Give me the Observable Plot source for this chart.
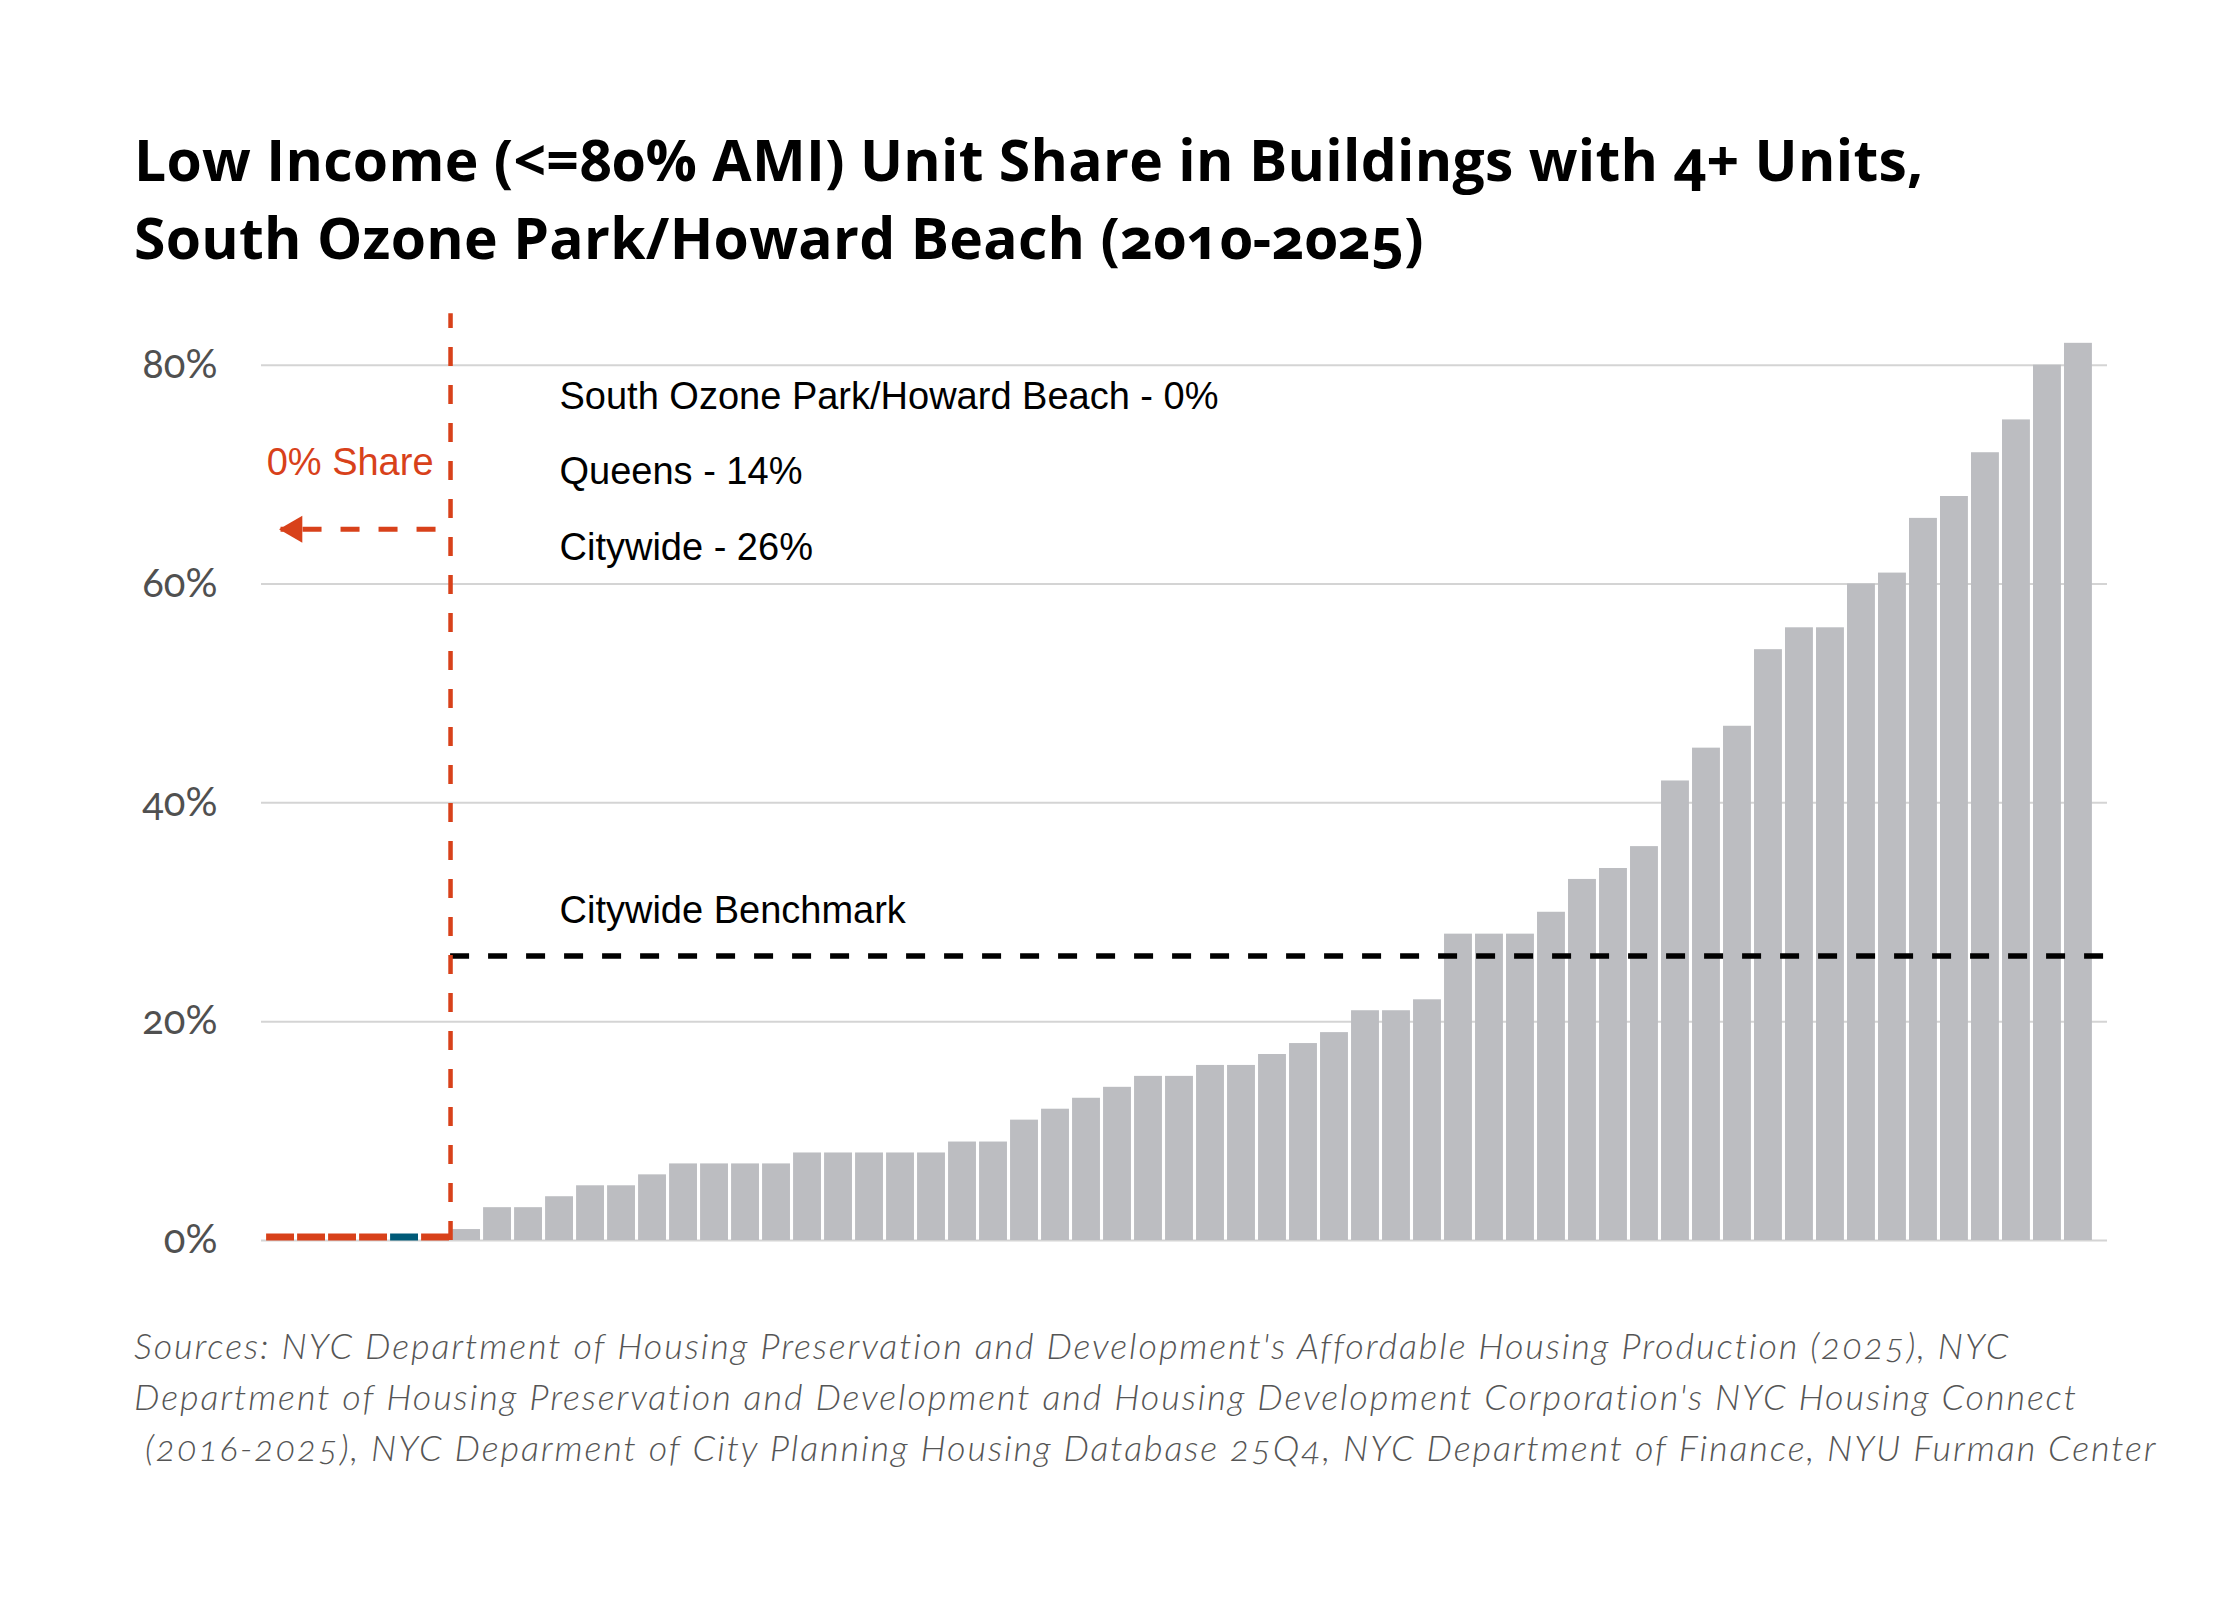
<!DOCTYPE html>
<html>
<head>
<meta charset="utf-8">
<script src="https://cdn.jsdelivr.net/npm/d3@7"></script>
<script src="https://cdn.jsdelivr.net/npm/@observablehq/plot@0.6"></script>
<style>
  html, body { margin: 0; padding: 0; background: #fff; }
  #page { position: relative; width: 2240px; height: 1600px; overflow: hidden; background: #fff; }
  #title { position: absolute; left: 134px; top: 120px; font-family: "Open Sans", Roboto, sans-serif; font-weight: 700;
           font-size: 57px; line-height: 78px; letter-spacing: 0.3px; color: #000; white-space: pre; font-variant-numeric: oldstyle-nums; }
  #chart { position: absolute; left: 0; top: 290px; }
  #source { position: absolute; left: 134px; top: 1320px; font-family: Lato, "Noto Sans", sans-serif; font-style: italic;
            font-weight: 300; font-size: 36px; line-height: 51px; letter-spacing: 1.9px; color: #555; white-space: pre;
            font-variant-numeric: oldstyle-nums; }
  #chart svg text { font-variant-numeric: oldstyle-nums !important; }
</style>
</head>
<body>
<div id="page">
  <div id="title"></div>
  <div id="chart"></div>
  <div id="source"></div>
</div>
<script>
// ---- data ----
const titleLines = [
  "Low Income (<=80% AMI) Unit Share in Buildings with 4+ Units,",
  "South Ozone Park/Howard Beach (2010-2025)"
];
const sourceLines = [
  "Sources: NYC Department of Housing Preservation and Development's Affordable Housing Production (2025), NYC",
  "Department of Housing Preservation and Development and Housing Development Corporation's NYC Housing Connect",
  " (2016-2025), NYC Deparment of City Planning Housing Database 25Q4, NYC Department of Finance, NYU Furman Center"
];
// districts ranked by share (categories)
const districtRank = [1,2,3,4,5,6,7,8,9,10,11,12,13,14,15,16,17,18,19,20,21,22,23,24,25,26,27,28,29,30,
  31,32,33,34,35,36,37,38,39,40,41,42,43,44,45,46,47,48,49,50,51,52,53,54,55,56,57,58,59];
// low-income unit share (%)
const shares = [0,0,0,0,0,0,1,3,3,4,5,5,6,7,7,7,7,8,8,8,8,8,9,9,11,12,13,14,15,15,16,16,17,18,19,21,21,22,
  28,28,28,30,33,34,36,42,45,47,54,56,56,60,61,66,68,72,75,80,82];
// highlight group for zero-share districts
const groups = ["zero","zero","zero","zero","focus","zero"];
const yTicks = [0, 20, 40, 60, 80];
const benchmark = [{value: 26, from: 7, to: 59}];
const notes = [
  {label: "South Ozone Park/Howard Beach - 0%", y: 75.96},
  {label: "Queens - 14%", y: 69.1},
  {label: "Citywide - 26%", y: 62.2},
  {label: "Citywide Benchmark", y: 29.0}
];
const zeroLabel = [{label: "0% Share", rank: 6, y: 70.0}];
const zeroArrow = [{from: 6, to: 1, y: 65}];
const divider = [{rank: 7, top: 84.7}];

const red = "#d8411a", teal = "#005a78", gray = "#bcbdc1";

const data = districtRank.map((r, i) => ({rank: r, share: shares[i], group: groups[i] || "other"}));

document.getElementById("title").textContent = titleLines.join("\n");
document.getElementById("source").textContent = sourceLines.join("\n");

const annoFont = "'Liberation Sans', Arial, sans-serif";

const chart = Plot.plot({
  width: 2240,
  height: 1000,
  marginLeft: 261,
  marginRight: 133,
  marginTop: 20,
  marginBottom: 50,
  style: {background: "transparent", overflow: "visible"},
  x: {type: "band", domain: districtRank, padding: 0.1, insetLeft: 2, insetRight: 12, axis: null},
  y: {domain: [0, 85], axis: null},
  color: {domain: ["zero", "focus"], range: [red, teal]},
  marks: [
    Plot.ruleY(yTicks, {stroke: "#d4d4d4", strokeWidth: 2}),
    Plot.axisY(yTicks, {tickSize: 0, tickPadding: 44, tickFormat: d => `${d}%`,
      fontSize: 40, fontFamily: "Lato, 'Noto Sans', sans-serif", fill: "#505050"}),
    Plot.barY(data.filter(d => d.share > 0), {x: "rank", y: "share", fill: gray}),
    Plot.tickY(data.filter(d => d.share === 0), {x: "rank", y: "share", stroke: "group", strokeWidth: 7, dy: -3.5}),
    Plot.ruleY(benchmark, {y: "value", x1: "from", x2: "to", insetLeft: -2, insetRight: -14,
      stroke: "#000", strokeWidth: 5.5, strokeDasharray: "19,19"}),
    Plot.ruleX(divider, {x: "rank", y1: () => 0, y2: "top", stroke: red, strokeWidth: 4.5, strokeDasharray: "19,19", dx: -16}),
    Plot.link(zeroArrow, {x1: "from", x2: "to", y1: "y", y2: "y", stroke: red, strokeWidth: 5, strokeDasharray: "19,19"}),
    Plot.dot(zeroArrow, {x: "to", y: "y", symbol: "triangle", r: 10, fill: red, stroke: "none", rotate: -90, dx: 14}),
    Plot.text(zeroLabel, {x: "rank", y: "y", text: "label", textAnchor: "end", lineAnchor: "bottom", dx: -2,
      fill: red, fontSize: 38, fontFamily: annoFont}),
    Plot.text(notes, {y: "y", text: "label", frameAnchor: "left", textAnchor: "start", lineAnchor: "bottom", dx: 298,
      fill: "#000", fontSize: 38, fontFamily: annoFont})
  ]
});
document.getElementById("chart").appendChild(chart);
</script>
</body>
</html>
